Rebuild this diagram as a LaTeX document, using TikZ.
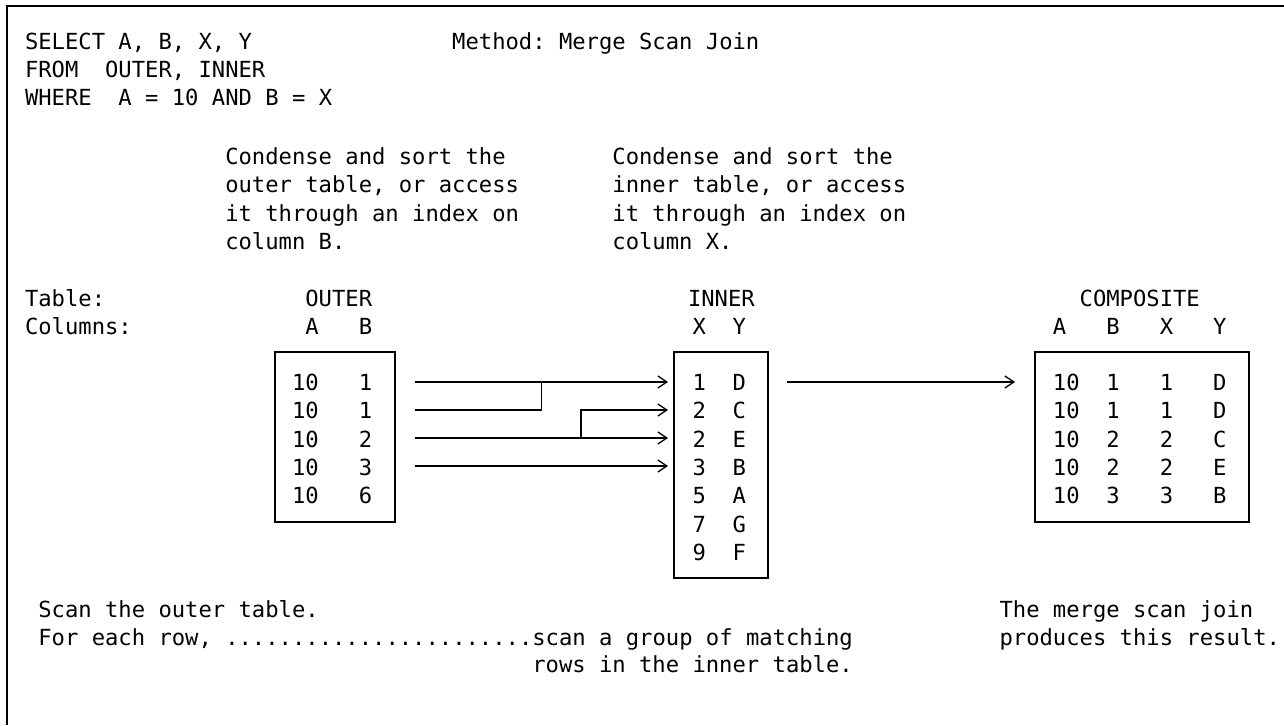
\documentclass[tikz,border=0pt]{standalone}
\usepackage{fontspec}
\setmonofont{DejaVu Sans Mono}
\usetikzlibrary{arrows.meta}
\newcommand\colx[1]{25+13.35*#1}
\tikzset{
  txt/.style={anchor=base west, inner sep=0pt, outer sep=0pt, font=\ttfamily\fontsize{22.18}{28}\selectfont},
  tbl/.style={draw, line width=1.4pt, inner sep=0pt},
  conn/.style={line width=1.3pt},
  arr/.style={conn, -{Straight Barb[length=9pt,width=12pt,line width=1.3pt]}},
  frame/.style={line width=2pt}
}
\begin{document}
\frenchspacing
\begin{tikzpicture}[x=1pt,y=-1pt]
\useasboundingbox (0,0) rectangle (1284,725);
\draw[frame] (7,725) -- (7,6) -- (1284,6);

% query
\node[txt] (sel) at (\colx{0},50) {SELECT A, B, X, Y};
\node[txt] (meth) at (\colx{32},50) {Method: Merge Scan Join};
\node[txt] (from) at (\colx{0},77.5) {FROM~~OUTER, INNER};
\node[txt] (where) at (\colx{0},105) {WHERE~~A = 10 AND B = X};

% notes
\node[txt] (c1a) at (\colx{15},164) {Condense and sort the};
\node[txt] (c1b) at (\colx{15},192.5) {outer table, or access};
\node[txt] (c1c) at (\colx{15},221) {it through an index on};
\node[txt] (c1d) at (\colx{15},249.5) {column B.};
\node[txt] (c2a) at (\colx{44},164) {Condense and sort the};
\node[txt] (c2b) at (\colx{44},192.5) {inner table, or access};
\node[txt] (c2c) at (\colx{44},221) {it through an index on};
\node[txt] (c2d) at (\colx{44},249.5) {column X.};

% headers
\node[txt] (tab) at (\colx{0},306) {Table:};
\node[txt] (cols) at (\colx{0},334) {Columns:};
\node[txt] (oh) at (\colx{21},306) {OUTER};
\node[txt] (ohc) at (\colx{21},334) {A~~~B};
\node[txt] (ih) at (688,306) {INNER};
\node[txt] (ihc) at (\colx{50},334) {X~~Y};
\node[txt] (ch) at (\colx{79},306) {COMPOSITE};
\node[txt] (chc) at (\colx{77},334) {A~~~B~~~X~~~Y};

% boxes
\node[tbl, minimum width=120pt, minimum height=170pt] (obox) at (335,437) {};
\node[tbl, minimum width=94pt, minimum height=226pt] (ibox) at (721,465) {};
\node[tbl, minimum width=214pt, minimum height=170pt] (cbox) at (1142,437) {};

% outer rows
\node[txt] (o1) at (\colx{20},390.5) {10~~~1};
\node[txt] (o2) at (\colx{20},418.8) {10~~~1};
\node[txt] (o3) at (\colx{20},447.1) {10~~~2};
\node[txt] (o4) at (\colx{20},475.4) {10~~~3};
\node[txt] (o5) at (\colx{20},503.7) {10~~~6};

% inner rows
\node[txt] (i1) at (\colx{50},390.5) {1~~D};
\node[txt] (i2) at (\colx{50},418.8) {2~~C};
\node[txt] (i3) at (\colx{50},447.1) {2~~E};
\node[txt] (i4) at (\colx{50},475.4) {3~~B};
\node[txt] (i5) at (\colx{50},503.7) {5~~A};
\node[txt] (i6) at (\colx{50},532) {7~~G};
\node[txt] (i7) at (\colx{50},560.3) {9~~F};

% composite rows
\node[txt] (k1) at (\colx{77},390.5) {10~~1~~~1~~~D};
\node[txt] (k2) at (\colx{77},418.8) {10~~1~~~1~~~D};
\node[txt] (k3) at (\colx{77},447.1) {10~~2~~~2~~~C};
\node[txt] (k4) at (\colx{77},475.4) {10~~2~~~2~~~E};
\node[txt] (k5) at (\colx{77},503.7) {10~~3~~~3~~~B};

% connector points
\coordinate (s1) at (415,382);
\coordinate (s2) at (415,410);
\coordinate (s3) at (415,438);
\coordinate (s4) at (415,466);
\coordinate (e1) at (668,382);
\coordinate (e2) at (668,410);
\coordinate (e3) at (668,438);
\coordinate (e4) at (668,466);
\coordinate (j1) at (541.5,382);
\coordinate (j2) at (541.5,410);
\coordinate (j3) at (581,410);
\coordinate (j4) at (581,438);
\coordinate (r1) at (787,382);
\coordinate (r2) at (1015,382);

\draw[arr] (s1) -- (e1);
\draw[conn] (s2) -- (j2) -- (j1);
\draw[arr] (s3) -- (e3);
\draw[arr] (j4) -- (j3) -- (e2);
\draw[arr] (s4) -- (e4);
\draw[arr] (r1) -- (r2);

% bottom notes
\node[txt] (b1) at (\colx{1},617) {Scan the outer table.};
\node[txt] (b2) at (\colx{1},645) {For each row, .......................scan a group of matching};
\node[txt] (b3) at (\colx{38},672) {rows in the inner table.};
\node[txt] (b4) at (\colx{73},617) {The merge scan join};
\node[txt] (b5) at (\colx{73},645) {produces this result.};
\end{tikzpicture}
\end{document}
